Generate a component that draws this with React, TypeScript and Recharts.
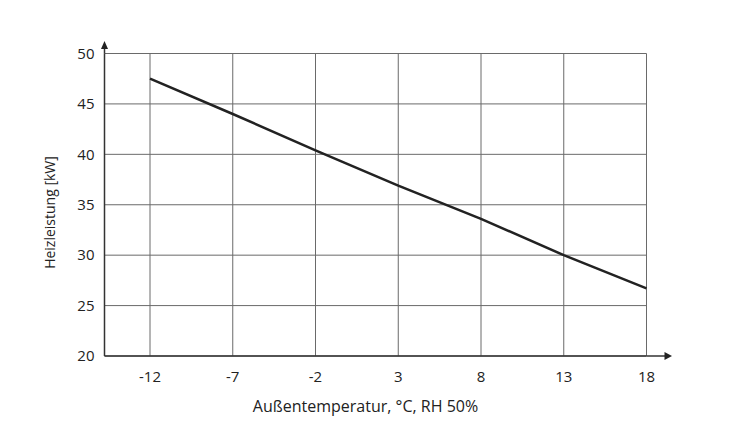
import React from 'react';
import { LineChart, Line, XAxis, YAxis, CartesianGrid, Label } from 'recharts';

const temperatures = [-12, -7, -2, 3, 8, 13, 18];
const heatingPower = [47.5, 44.0, 40.4, 36.9, 33.6, 30.0, 26.7];
const yTicks = [20, 25, 30, 35, 40, 45, 50];
const xTitle = 'Außentemperatur, °C, RH 50%';
const yTitle = 'Heizleistung [kW]';

const data = temperatures.map((t, i) => ({ t, p: heatingPower[i] }));

const FONT = '"Open Sans", "DejaVu Sans", sans-serif';
const AXIS_COLOR = '#333';

const XTitle = (props: any) => {
  const vb = props.viewBox || {};
  const x = (vb.x ?? 0) + (vb.width ?? 0) / 2 - 10;
  const y = (vb.y ?? 0) + 56;
  return (
    <text x={x} y={y} textAnchor="middle" fontFamily={FONT} fontSize={16} fill="#222">
      {xTitle}
    </text>
  );
};

const YTitle = (props: any) => {
  const vb = props.viewBox || {};
  const x = (vb.x ?? 0) + 21.3;
  const y = (vb.y ?? 0) + (vb.height ?? 0) / 2 + 7.75;
  return (
    <text
      x={x}
      y={y}
      textAnchor="middle"
      dominantBaseline="central"
      transform={`rotate(-90, ${x}, ${y})`}
      fontFamily={FONT}
      fontSize={14}
      fill="#222"
    >
      {yTitle}
    </text>
  );
};

export default function App() {
  return (
    <div style={{ position: 'relative', width: 742, height: 420 }}>
      <LineChart
        width={742}
        height={420}
        data={data}
        margin={{ top: 45.5, right: 103.5, bottom: 10, left: 20 }}
      >
        <CartesianGrid stroke="#6a6a6a" strokeWidth={1} />
        <XAxis
          type="number"
          dataKey="t"
          domain={[-14.75, 18]}
          ticks={temperatures}
          interval={0}
          height={62}
          tickLine={false}
          tickSize={6}
          tickMargin={9}
          axisLine={{ stroke: AXIS_COLOR, strokeWidth: 1.5, markerEnd: 'url(#arrowX)' } as any}
          tick={{ fill: '#222', fontSize: 15, fontFamily: FONT }}
        >
          <Label content={<XTitle />} />
        </XAxis>
        <YAxis
          type="number"
          domain={[20, 50]}
          ticks={yTicks}
          interval={0}
          width={76.5}
          tickLine={false}
          tickSize={6}
          tickMargin={4}
          axisLine={{ stroke: AXIS_COLOR, strokeWidth: 1.5, markerStart: 'url(#arrowY)' } as any}
          tick={{ fill: '#222', fontSize: 15, fontFamily: FONT }}
        >
          <Label content={<YTitle />} />
        </YAxis>
        <Line
          type="linear"
          dataKey="p"
          stroke="#222"
          strokeWidth={2.5}
          dot={false}
          activeDot={false}
          isAnimationActive={false}
        />
      </LineChart>
      <svg width={0} height={0} style={{ position: 'absolute', left: 0, top: 0 }}>
        <defs>
          <marker
            id="arrowX"
            markerUnits="userSpaceOnUse"
            markerWidth={30}
            markerHeight={12}
            refX={0}
            refY={0}
            orient="auto"
            overflow="visible"
          >
            <line x1={0} y1={0} x2={19} y2={0} stroke={AXIS_COLOR} strokeWidth={1.5} />
            <path d="M18,-4 L25.5,0 L18,4 Z" fill="#222" />
          </marker>
          <marker
            id="arrowY"
            markerUnits="userSpaceOnUse"
            markerWidth={30}
            markerHeight={12}
            refX={0}
            refY={0}
            orient="auto-start-reverse"
            overflow="visible"
          >
            <line x1={0} y1={0} x2={5.5} y2={0} stroke={AXIS_COLOR} strokeWidth={1.5} />
            <path d="M4.5,-3.5 L12.5,0 L4.5,3.5 Z" fill="#222" />
          </marker>
        </defs>
      </svg>
    </div>
  );
}
